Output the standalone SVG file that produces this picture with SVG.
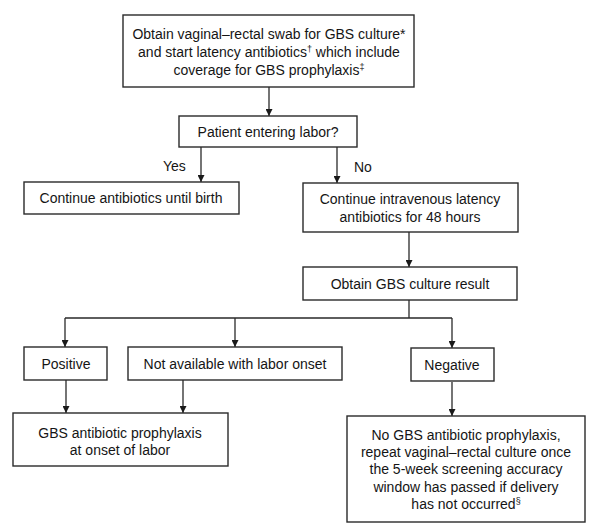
<svg xmlns="http://www.w3.org/2000/svg" width="610" height="526" viewBox="0 0 610 526">
<defs>
<style>
.box{fill:#fff;stroke:#2a2a2a;stroke-width:1.4}
.t{font-family:"Liberation Sans Narrow","Liberation Sans",Arial,sans-serif;font-size:14px;fill:#151515;text-anchor:middle}
.lbl{font-family:"Liberation Sans Narrow","Liberation Sans",Arial,sans-serif;font-size:14px;fill:#151515}
.c{fill:none;stroke:#2a2a2a;stroke-width:1.3}
.sup{font-size:9px}
</style>
<marker id="ah" viewBox="0 0 10 10" refX="10" refY="5" markerWidth="7" markerHeight="7" markerUnits="userSpaceOnUse" orient="auto">
<path d="M0,0 L10,5 L0,10 z" fill="#1a1a1a"/>
</marker>
</defs>
<rect width="610" height="526" fill="#fff"/>
<g id="connectors">
<path class="c" d="M269,87 V116" marker-end="url(#ah)"/>
<path class="c" d="M201,147 V182" marker-end="url(#ah)"/>
<path class="c" d="M337,147 V183" marker-end="url(#ah)"/>
<path class="c" d="M409,232 V267" marker-end="url(#ah)"/>
<path class="c" d="M409,300 V318 M65,318 H452"/>
<path class="c" d="M65,318 V347" marker-end="url(#ah)"/>
<path class="c" d="M235,318 V347" marker-end="url(#ah)"/>
<path class="c" d="M452,318 V348" marker-end="url(#ah)"/>
<path class="c" d="M66,380 V413" marker-end="url(#ah)"/>
<path class="c" d="M183,380 V413" marker-end="url(#ah)"/>
<path class="c" d="M452,382 V416" marker-end="url(#ah)"/>
<text class="lbl" x="163" y="171">Yes</text>
<text class="lbl" x="354" y="172">No</text>
</g>
<g id="n1">
<rect class="box" x="123" y="15" width="291" height="72"/>
<text class="t" x="269" y="39">Obtain vaginal–rectal swab for GBS culture*</text>
<text class="t" x="269" y="57">and start latency antibiotics<tspan class="sup" dy="-5">†</tspan><tspan dy="5"> which include</tspan></text>
<text class="t" x="269" y="75">coverage for GBS prophylaxis<tspan class="sup" dy="-5">‡</tspan></text>
</g>
<g id="n2">
<rect class="box" x="179" y="116" width="178" height="31"/>
<text class="t" x="268" y="137">Patient entering labor?</text>
</g>
<g id="n3">
<rect class="box" x="24" y="182" width="215" height="32"/>
<text class="t" x="131" y="203">Continue antibiotics until birth</text>
</g>
<g id="n4">
<rect class="box" x="303" y="183" width="215" height="49"/>
<text class="t" x="410" y="204">Continue intravenous latency</text>
<text class="t" x="410" y="222">antibiotics for 48 hours</text>
</g>
<g id="n5">
<rect class="box" x="303" y="267" width="214" height="33"/>
<text class="t" x="410" y="289">Obtain GBS culture result</text>
</g>
<g id="n6">
<rect class="box" x="24" y="347" width="83" height="33"/>
<text class="t" x="66" y="369">Positive</text>
</g>
<g id="n7">
<rect class="box" x="128" y="347" width="214" height="33"/>
<text class="t" x="235" y="369">Not available with labor onset</text>
</g>
<g id="n8">
<rect class="box" x="411" y="348" width="83" height="33"/>
<text class="t" x="452" y="370">Negative</text>
</g>
<g id="n9">
<rect class="box" x="13" y="413" width="215" height="53"/>
<text class="t" x="120" y="438">GBS antibiotic prophylaxis</text>
<text class="t" x="120" y="455">at onset of labor</text>
</g>
<g id="n10">
<rect class="box" x="347" y="416" width="238" height="106"/>
<text class="t" x="466" y="440">No GBS antibiotic prophylaxis,</text>
<text class="t" x="466" y="457">repeat vaginal–rectal culture once</text>
<text class="t" x="466" y="474">the 5-week screening accuracy</text>
<text class="t" x="466" y="492">window has passed if delivery</text>
<text class="t" x="466" y="509">has not occurred<tspan class="sup" dy="-5">§</tspan></text>
</g>
</svg>
